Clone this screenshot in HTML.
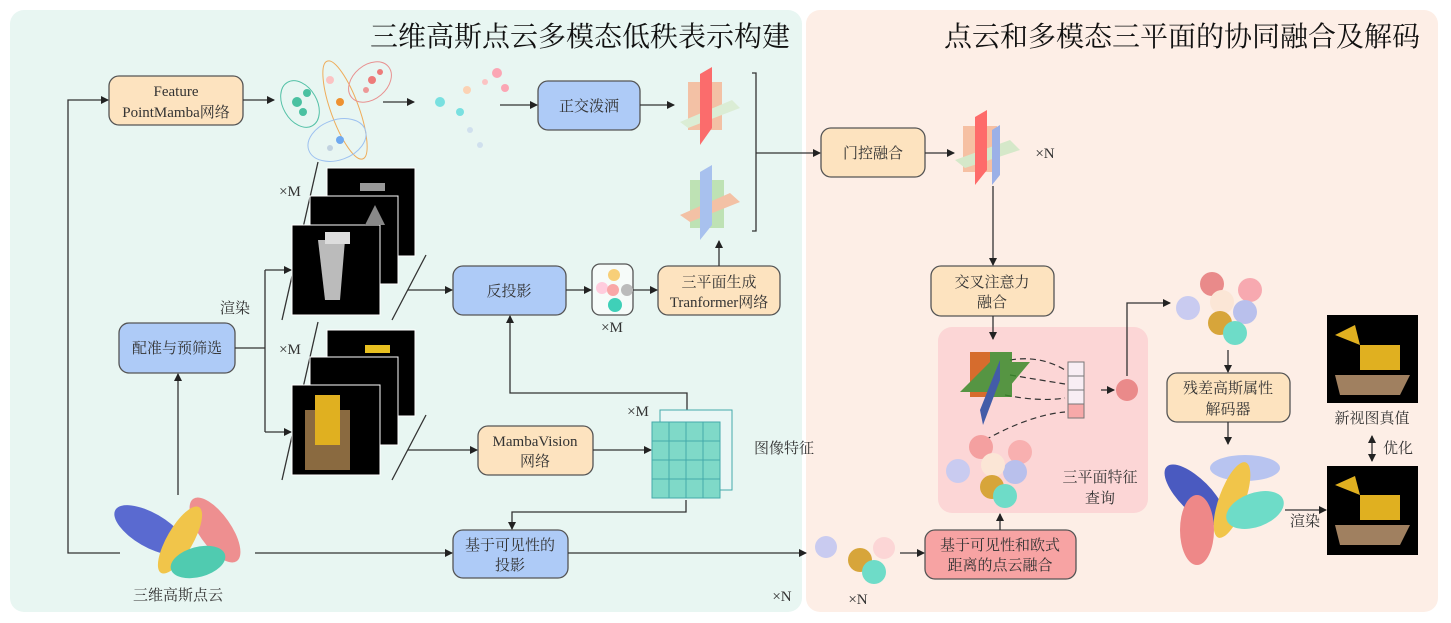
<!DOCTYPE html>
<html><head><meta charset="utf-8"><style>
html,body{margin:0;padding:0;background:#fff;width:1451px;height:623px;overflow:hidden}
svg text{font-family:"Liberation Serif","Noto Serif CJK SC","Noto Sans CJK SC",serif;fill:#333}
</style></head><body>
<svg width="1451" height="623" viewBox="0 0 1451 623" xmlns="http://www.w3.org/2000/svg">
<defs>
<marker id="a" markerWidth="8" markerHeight="8" refX="7" refY="4" orient="auto" markerUnits="userSpaceOnUse"><path d="M0,0L8,4L0,8z" fill="#222"/></marker>
<marker id="b" markerWidth="8" markerHeight="8" refX="1" refY="4" orient="auto" markerUnits="userSpaceOnUse"><path d="M8,0L0,4L8,8z" fill="#222"/></marker>
</defs>
<rect x="10" y="10" width="792" height="602" rx="14" fill="#e8f6f2"/>
<rect x="806" y="10" width="632" height="602" rx="14" fill="#fdeee6"/>
<text x="790" y="46" font-size="28" text-anchor="end" style="fill:#111">三维高斯点云多模态低秩表示构建</text>
<text x="1420" y="46" font-size="28" text-anchor="end" style="fill:#111">点云和多模态三平面的协同融合及解码</text>
<rect x="938" y="327" width="210" height="186" rx="14" fill="#fcd6d6"/>

<g stroke="#555" stroke-width="1.3">
<rect x="109" y="76" width="134" height="49" rx="10" fill="#fde3bf"/>
<rect x="538" y="81" width="102" height="49" rx="10" fill="#aecbf7"/>
<rect x="821" y="128" width="104" height="49" rx="10" fill="#fde3bf"/>
<rect x="453" y="266" width="113" height="49" rx="10" fill="#aecbf7"/>
<rect x="592" y="264" width="41" height="51" rx="8" fill="#f6fbf9"/>
<rect x="658" y="266" width="122" height="49" rx="10" fill="#fde3bf"/>
<rect x="119" y="323" width="116" height="50" rx="10" fill="#aecbf7"/>
<rect x="478" y="426" width="115" height="49" rx="10" fill="#fde3bf"/>
<rect x="453" y="530" width="115" height="48" rx="10" fill="#aecbf7"/>
<rect x="931" y="266" width="123" height="50" rx="10" fill="#fde3bf"/>
<rect x="925" y="530" width="151" height="49" rx="10" fill="#f7a3a3"/>
<rect x="1167" y="373" width="123" height="49" rx="10" fill="#fde3bf"/>
</g>
<g font-size="15" text-anchor="middle">
<text x="176" y="96">Feature</text><text x="176" y="117">PointMamba网络</text>
<text x="589" y="111">正交泼洒</text>
<text x="873" y="158">门控融合</text>
<text x="509" y="296">反投影</text>
<text x="719" y="287">三平面生成</text><text x="719" y="307">Tranformer网络</text>
<text x="177" y="353">配准与预筛选</text>
<text x="535" y="446">MambaVision</text><text x="535" y="466">网络</text>
<text x="510" y="550">基于可见性的</text><text x="510" y="570">投影</text>
<text x="992" y="287">交叉注意力</text><text x="992" y="307">融合</text>
<text x="1000" y="550">基于可见性和欧式</text><text x="1000" y="570">距离的点云融合</text>
<text x="1228" y="393">残差高斯属性</text><text x="1228" y="414">解码器</text>
<text x="235" y="313">渲染</text>
<text x="178" y="600">三维高斯点云</text>
<text x="1100" y="482">三平面特征</text><text x="1100" y="503">查询</text>
<text x="784" y="453">图像特征</text>
<text x="1372" y="423">新视图真值</text>
<text x="1398" y="453">优化</text>
<text x="1305" y="526">渲染</text>
<text x="290" y="196">×M</text><text x="290" y="354">×M</text>
<text x="612" y="332">×M</text><text x="638" y="416">×M</text>
<text x="1045" y="158">×N</text><text x="782" y="601">×N</text><text x="858" y="604">×N</text>
</g>

<g stroke="#333" stroke-width="1.3" fill="none">
<path d="M120,553H68V100H108" marker-end="url(#a)"/>
<path d="M255,553H452" marker-end="url(#a)"/>
<path d="M178,495V374" marker-end="url(#a)"/>
<path d="M235,348H265"/><path d="M265,270V432"/>
<path d="M265,270H291" marker-end="url(#a)"/><path d="M265,432H291" marker-end="url(#a)"/>
<path d="M408,290H452" marker-end="url(#a)"/>
<path d="M408,450H477" marker-end="url(#a)"/>
<path d="M593,450H651" marker-end="url(#a)"/>
<path d="M687,410V393H510V316" marker-end="url(#a)"/>
<path d="M686,500V512H512V529" marker-end="url(#a)"/>
<path d="M566,290H591" marker-end="url(#a)"/>
<path d="M633,290H657" marker-end="url(#a)"/>
<path d="M719,266V241" marker-end="url(#a)"/>
<path d="M243,100H274" marker-end="url(#a)"/>
<path d="M383,102H414" marker-end="url(#a)"/>
<path d="M500,105H537" marker-end="url(#a)"/>
<path d="M640,105H674" marker-end="url(#a)"/>
<path d="M752,73h4v158h-4M756,153H820" marker-end="url(#a)"/>
<path d="M925,153H954" marker-end="url(#a)"/>
<path d="M993,186V265" marker-end="url(#a)"/>
<path d="M993,316V339" marker-end="url(#a)"/>
<path d="M568,553H806" marker-end="url(#a)"/>
<path d="M900,553H924" marker-end="url(#a)"/>
<path d="M1000,530V514" marker-end="url(#a)"/>
<path d="M1127,376V303H1170" marker-end="url(#a)"/>
<path d="M1101,390H1114" marker-end="url(#a)"/>
<path d="M1228,350V372" marker-end="url(#a)"/>
<path d="M1228,422V444" marker-end="url(#a)"/>
<path d="M1285,510H1326" marker-end="url(#a)"/>
<path d="M1372,436V461" marker-start="url(#b)" marker-end="url(#a)"/>
<path d="M318,162L282,320M426,255L392,320M318,322L282,480M426,415L392,480"/>
</g>
<g stroke="#333" stroke-width="1.2" fill="none" stroke-dasharray="6,4">
<path d="M1010,360Q1040,355 1065,370"/><path d="M1010,375Q1040,380 1065,384"/><path d="M1005,395Q1040,402 1065,398"/><path d="M985,440Q1030,415 1065,412"/>
</g>

<g opacity="0.85">
<ellipse cx="300" cy="104" rx="17" ry="25" transform="rotate(-30 300 104)" fill="none" stroke="#3bb89a"/>
<ellipse cx="345" cy="110" rx="14" ry="52" transform="rotate(-20 345 110)" fill="none" stroke="#f0a040"/>
<ellipse cx="370" cy="82" rx="17" ry="24" transform="rotate(50 370 82)" fill="none" stroke="#e98080"/>
<ellipse cx="337" cy="140" rx="30" ry="20" transform="rotate(-20 337 140)" fill="none" stroke="#90b8f0"/>
<circle cx="297" cy="102" r="5" fill="#2fb894"/><circle cx="307" cy="93" r="4" fill="#2fb894"/><circle cx="303" cy="112" r="4" fill="#2fb894"/>
<circle cx="340" cy="102" r="4" fill="#f08010"/><circle cx="330" cy="80" r="4" fill="#fbb"/>
<circle cx="372" cy="80" r="4" fill="#e66"/><circle cx="380" cy="72" r="3" fill="#e66"/><circle cx="366" cy="90" r="3" fill="#e88"/>
<circle cx="340" cy="140" r="4" fill="#5b9cf0"/><circle cx="330" cy="148" r="3" fill="#bcd"/>
<circle cx="440" cy="102" r="5" fill="#6dd"/><circle cx="460" cy="112" r="4" fill="#6dd"/><circle cx="467" cy="90" r="4" fill="#fca"/>
<circle cx="497" cy="73" r="5" fill="#f9a"/><circle cx="505" cy="88" r="4" fill="#f9a"/><circle cx="485" cy="82" r="3" fill="#fbb"/>
<circle cx="470" cy="130" r="3" fill="#cde"/><circle cx="480" cy="145" r="3" fill="#cde"/>
</g>
<g opacity="0.85">
<rect x="688" y="82" width="34" height="48" fill="#f5b898"/><polygon points="680,122 732,100 740,108 688,128" fill="#d9ecd0"/><polygon points="700,74 712,67 712,128 700,145" fill="#f55"/>
<rect x="690" y="180" width="34" height="48" fill="#b7dfaa"/><polygon points="680,215 730,193 740,202 690,222" fill="#f5b898"/><polygon points="700,172 712,165 712,225 700,240" fill="#9db8ee"/>
<rect x="963" y="126" width="34" height="46" fill="#f5b898"/><polygon points="955,160 1010,140 1020,150 965,168" fill="#cfe8c4"/><polygon points="975,117 987,110 987,170 975,185" fill="#f55"/><polygon points="992,130 1000,125 1000,175 992,185" fill="#8aa6e8"/>
<rect x="970" y="352" width="22" height="45" fill="#d05a10"/><polygon points="960,392 990,362 1030,362 1005,392" fill="#3a8a2a"/><rect x="990" y="352" width="22" height="45" fill="#3a8a2a"/><polygon points="980,410 1000,360 1000,380 983,425" fill="#2347a0"/>
</g>
<g stroke="#777" fill="#f8eef4"><rect x="1068" y="362" width="16" height="14"/><rect x="1068" y="376" width="16" height="14"/><rect x="1068" y="390" width="16" height="14"/><rect x="1068" y="404" width="16" height="14" fill="#f7a9a9"/></g>
<circle cx="1127" cy="390" r="11" fill="#ea8a8a"/>
<circle cx="614" cy="275" r="6" fill="#f8cf78"/><circle cx="602" cy="288" r="6" fill="#fcd"/><circle cx="613" cy="290" r="6" fill="#f9a7a7"/><circle cx="627" cy="290" r="6" fill="#bbb"/><circle cx="615" cy="305" r="7" fill="#3fd0b8"/>
<g stroke="#fff" stroke-width="1"><rect x="327" y="168" width="88" height="88" fill="#000"/><rect x="310" y="196" width="88" height="88" fill="#000"/><rect x="292" y="225" width="88" height="90" fill="#000"/>
<rect x="327" y="330" width="88" height="86" fill="#000"/><rect x="310" y="357" width="88" height="88" fill="#000"/><rect x="292" y="385" width="88" height="90" fill="#000"/></g>
<polygon points="318,240 345,240 340,300 325,300" fill="#bbb"/><rect x="325" y="232" width="25" height="12" fill="#ddd"/>
<rect x="360" y="183" width="25" height="8" fill="#999"/><polygon points="365,225 375,205 385,225" fill="#888"/>
<rect x="365" y="345" width="25" height="8" fill="#e8c020"/><rect x="305" y="410" width="45" height="60" fill="#8a6a40"/><rect x="315" y="395" width="25" height="50" fill="#e0b020"/>
<rect x="1327" y="315" width="91" height="88" fill="#000"/><rect x="1327" y="466" width="91" height="89" fill="#000"/>
<polygon points="1335,375 1410,375 1400,395 1340,395" fill="#a08060"/><rect x="1360" y="345" width="40" height="25" fill="#e0b020"/><polygon points="1335,335 1355,325 1360,345" fill="#e0b020"/>
<polygon points="1335,525 1410,525 1400,545 1340,545" fill="#a08060"/><rect x="1360" y="495" width="40" height="25" fill="#e0b020"/><polygon points="1335,485 1355,476 1360,495" fill="#e0b020"/>
<g stroke="#4aa" stroke-width="1"><rect x="660" y="410" width="72" height="80" fill="#eaf7f5"/>
<g fill="#7fd9c8"><rect x="652" y="422" width="17" height="19"/><rect x="669" y="422" width="17" height="19"/><rect x="686" y="422" width="17" height="19"/><rect x="703" y="422" width="17" height="19"/>
<rect x="652" y="441" width="17" height="19"/><rect x="669" y="441" width="17" height="19"/><rect x="686" y="441" width="17" height="19"/><rect x="703" y="441" width="17" height="19"/>
<rect x="652" y="460" width="17" height="19"/><rect x="669" y="460" width="17" height="19"/><rect x="686" y="460" width="17" height="19"/><rect x="703" y="460" width="17" height="19"/>
<rect x="652" y="479" width="17" height="19"/><rect x="669" y="479" width="17" height="19"/><rect x="686" y="479" width="17" height="19"/><rect x="703" y="479" width="17" height="19"/></g></g>
<ellipse cx="150" cy="530" rx="40" ry="17" transform="rotate(30 150 530)" fill="#5a6ad0"/>
<ellipse cx="215" cy="530" rx="38" ry="16" transform="rotate(55 215 530)" fill="#ee8f90"/>
<ellipse cx="180" cy="540" rx="38" ry="13" transform="rotate(-60 180 540)" fill="#f1c54a"/>
<ellipse cx="198" cy="562" rx="28" ry="15" transform="rotate(-15 198 562)" fill="#50cbb0"/>
<circle cx="826" cy="547" r="11" fill="#c9cbf0"/><circle cx="884" cy="548" r="11" fill="#fcd6d6"/><circle cx="860" cy="560" r="12" fill="#d7a53a"/><circle cx="874" cy="572" r="12" fill="#6edcc8"/>
<circle cx="981" cy="447" r="12" fill="#f4a0a0"/><circle cx="1020" cy="452" r="12" fill="#f8b0b0"/><circle cx="958" cy="471" r="12" fill="#c9cbf0"/><circle cx="1015" cy="472" r="12" fill="#b9c0ec"/><circle cx="993" cy="465" r="12" fill="#fbe6d6"/><circle cx="992" cy="487" r="12" fill="#d7a53a"/><circle cx="1005" cy="496" r="12" fill="#6edcc8"/>
<circle cx="1188" cy="308" r="12" fill="#c9cbf0"/><circle cx="1212" cy="284" r="12" fill="#e98a8a"/><circle cx="1250" cy="290" r="12" fill="#f7a9b0"/><circle cx="1245" cy="312" r="12" fill="#b9c0ec"/><circle cx="1222" cy="302" r="12" fill="#fbe6d6"/><circle cx="1220" cy="323" r="12" fill="#d7a53a"/><circle cx="1235" cy="333" r="12" fill="#6edcc8"/>
<ellipse cx="1195" cy="495" rx="40" ry="16" transform="rotate(45 1195 495)" fill="#4a5ac0"/>
<ellipse cx="1245" cy="468" rx="35" ry="13" fill="#b8c4f0"/>
<ellipse cx="1232" cy="500" rx="40" ry="13" transform="rotate(-70 1232 500)" fill="#f1c54a"/>
<ellipse cx="1197" cy="530" rx="17" ry="35" fill="#e88"/>
<ellipse cx="1255" cy="510" rx="30" ry="17" transform="rotate(-20 1255 510)" fill="#6edcc8"/>
</svg>
</body></html>
